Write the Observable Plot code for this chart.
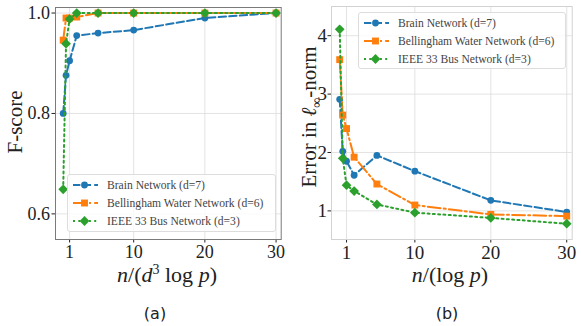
<!DOCTYPE html>
<html><head><meta charset="utf-8">
<script src="https://cdn.jsdelivr.net/npm/d3@7"></script>
<script src="https://cdn.jsdelivr.net/npm/@observablehq/plot@0.6"></script>
<style>
body{margin:0;background:#fff;}
#root{position:relative;width:581px;height:326px;overflow:hidden;font-family:"Liberation Serif",serif;color:#222;}
.abs{position:absolute;}
.ylab{position:absolute;white-space:nowrap;transform:translate(-50%,-50%) rotate(-90deg);font-size:21px;}
.xlab{position:absolute;white-space:nowrap;transform:translate(-50%,-50%);font-size:22px;}
.cap{position:absolute;white-space:nowrap;transform:translate(-50%,-50%);font-family:"DejaVu Sans",sans-serif;font-size:16px;}
.legend{position:absolute;background:rgba(255,255,255,0.8);border:1px solid #dddddd;border-radius:3px;box-sizing:border-box;}
.lrow{position:absolute;left:4px;height:18px;display:flex;align-items:center;font-size:11.6px;color:#444;white-space:nowrap;}
.lrow svg{margin-right:9px;}
</style></head><body><div id="root"></div>
<script>
const xValues = [0.1, 0.5, 1, 2, 5, 10, 20, 30];
const seriesNames = ["Brain Network (d=7)", "Bellingham Water Network (d=6)", "IEEE 33 Bus Network (d=3)"];
const fscoreBrain = [0.800, 0.876, 0.905, 0.955, 0.960, 0.966, 0.990, 1.000];
const fscoreWater = [0.946, 0.990, 0.990, 0.992, 1.000, 1.000, 1.000, 1.000];
const fscoreBus   = [0.649, 0.939, 0.988, 1.000, 1.000, 1.000, 1.000, 1.000];
const errBrain = [2.91, 2.02, 1.85, 1.61, 1.95, 1.68, 1.18, 0.98];
const errWater = [3.59, 2.64, 2.41, 1.92, 1.46, 1.10, 0.94, 0.91];
const errBus   = [4.11, 1.90, 1.44, 1.34, 1.11, 0.97, 0.88, 0.78];
const xTicks = [1, 10, 20, 30];
const fscoreTicks = [0.6, 0.8, 1.0];
const errorTicks = [1, 2, 3, 4];

const colors = ["#1f77b4", "#ff7f0e", "#2ca02c"];
const dashes = ["7.4,3.2", "12.8,3.2,2,3.2", "2,3.3"];
const symbols = ["circle", "square", "diamond2"];
const radii = [3.4, 3.9, 4.4];
const d3symbols = [d3.symbolCircle, d3.symbolSquare, d3.symbolDiamond2];

const root = document.getElementById("root");

function rows(values) {
  return seriesNames.flatMap((s, i) => xValues.map((x, j) => ({series: s, x, y: values[i][j]})));
}

function panel(opts) {
  const data = rows(opts.values);
  const marks = [
    Plot.gridX(xTicks, {stroke: "#dcdcdc", strokeOpacity: 1, strokeWidth: 0.8}),
    Plot.gridY(opts.yTicks, {stroke: "#dcdcdc", strokeOpacity: 1, strokeWidth: 0.8})
  ];
  seriesNames.forEach((s, i) => {
    const d = data.filter(r => r.series === s);
    marks.push(Plot.line(d, {x: "x", y: "y", stroke: colors[i], strokeWidth: 2, strokeDasharray: dashes[i]}));
    marks.push(Plot.dot(d, {x: "x", y: "y", fill: colors[i], r: radii[i], symbol: symbols[i]}));
  });
  marks.push(Plot.frame({stroke: opts.frame, strokeWidth: 1}));
  const svg = Plot.plot({
    width: opts.width, height: opts.height,
    marginLeft: opts.ml, marginRight: opts.mr, marginTop: opts.mt, marginBottom: opts.mb,
    x: {domain: [-0.98, 30.72], ticks: xTicks, tickFormat: d => String(d), tickSize: 3.5, tickPadding: 2, label: null},
    y: {domain: opts.yDomain, ticks: opts.yTicks, tickFormat: opts.yFormat, tickSize: 3.5, tickPadding: opts.ypad, label: null},
    style: {fontFamily: "'Liberation Serif', serif", fontSize: opts.fs, color: "#222", background: "transparent", overflow: "visible"},
    marks
  });
  svg.classList.add("abs");
  svg.style.left = opts.left + "px";
  svg.style.top = "0px";
  root.appendChild(svg);
}

panel({values: [fscoreBrain, fscoreWater, fscoreBus], yDomain: [0.549, 1.011], yTicks: fscoreTicks,
  yFormat: d => d.toFixed(1), left: 0, width: 290, height: 261, ml: 55, mr: 9.3, mt: 7, mb: 22, frame: "#7a7a7a", ypad: 2, fs: "18px"});
panel({values: [errBrain, errWater, errBus], yDomain: [0.51, 4.5], yTicks: errorTicks,
  yFormat: d => String(d), left: 290, width: 291, height: 261, ml: 41, mr: 9.3, mt: 6, mb: 22, frame: "#d2d2d2", ypad: 1, fs: "19px"});

function addHTML(cls, html, x, y) {
  const el = document.createElement("div");
  el.className = cls; el.innerHTML = html;
  el.style.left = x + "px"; el.style.top = y + "px";
  root.appendChild(el);
  return el;
}
addHTML("ylab", "F-score", 15, 122);
addHTML("ylab", "Error in <i>ℓ</i><sub style='font-size:14px'>∞</sub>-norm", 311, 117);
addHTML("xlab", "<i>n</i>/(<i>d</i><sup style='font-size:14px'>3</sup> log <i>p</i>)", 167, 275);
addHTML("xlab", "<i>n</i>/(log <i>p</i>)", 450, 275);
addHTML("cap", "(a)", 155, 313);
addHTML("cap", "(b)", 447, 313);

function legend(x, y, w, h, firstCenter) {
  const box = document.createElement("div");
  box.className = "legend";
  Object.assign(box.style, {left: x + "px", top: y + "px", width: w + "px", height: h + "px"});
  seriesNames.forEach((s, i) => {
    const row = document.createElement("div");
    row.className = "lrow";
    row.style.top = (firstCenter + i * 18.2 - 9) + "px";
    const sv = d3.create("svg").attr("width", 26).attr("height", 14);
    sv.append("line").attr("x1", 1).attr("x2", 26).attr("y1", 7).attr("y2", 7)
      .attr("stroke", colors[i]).attr("stroke-width", 2).attr("stroke-dasharray", dashes[i]);
    const area = Math.PI * radii[i] * radii[i];
    sv.append("path").attr("d", d3.symbol(d3symbols[i], area)()).attr("transform", "translate(12.5,7)").attr("fill", colors[i]);
    row.appendChild(sv.node());
    const t = document.createElement("span");
    t.textContent = s;
    row.appendChild(t);
    box.appendChild(row);
  });
  root.appendChild(box);
}
legend(67, 174, 209, 58, 10);
legend(358, 12, 208, 57, 10);
</script>
</body></html>
